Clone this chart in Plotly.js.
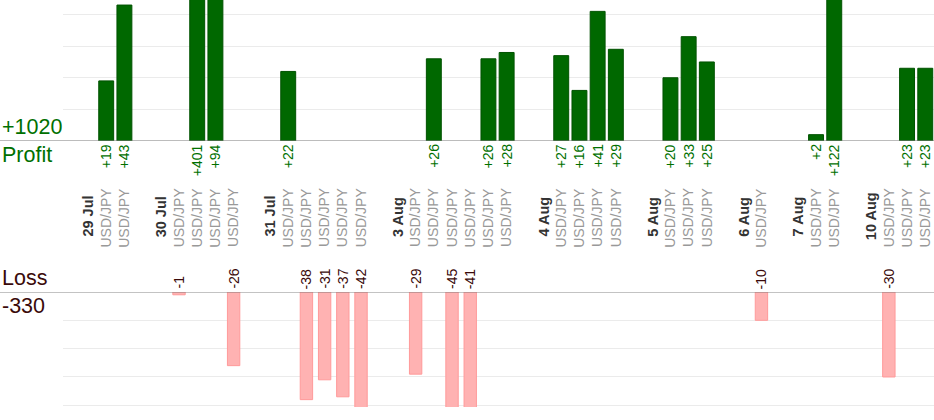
<!DOCTYPE html>
<html>
<head>
<meta charset="utf-8">
<script src="https://cdn.plot.ly/plotly-3.0.1.min.js"></script>
<style>
  html, body { margin: 0; padding: 0; background: #fff; }
  #chart { width: 934px; height: 420px; }
</style>
</head>
<body>
<div id="chart"></div>
<script>
// Trading days and the result of each trade (same order as on the chart)
const days = ['29 Jul', '30 Jul', '31 Jul', '3 Aug', '4 Aug', '5 Aug', '6 Aug', '7 Aug', '10 Aug'];
const pair = 'USD/JPY';
const dayResults = [
  [19, 43],
  [-1, 401, 94, -26],
  [22, -38, -31, -37, -42],
  [-29, 26, -45, -41, 26, 28],
  [27, 16, 41, 29],
  [20, 33, 25],
  [-10],
  [2, 122],
  [-30, 23, 23]
];

const FONT = 'Liberation Sans, Arial, sans-serif';
const GREEN = '#007000';
const BROWN = '#3a0a0a';

// lay out slots: date label, one slot per trade, then an empty gap slot
let slot = 0;
const dateSlots = [];
const tradeSlots = [];
const tradeValues = [];
days.forEach((d, i) => {
  dateSlots.push(slot);
  slot++;
  dayResults[i].forEach(v => {
    tradeSlots.push(slot);
    tradeValues.push(v);
    slot++;
  });
  slot++;
});

const profitX = [], profitY = [], lossX = [], lossY = [];
tradeValues.forEach((v, i) => {
  if (v > 0) { profitX.push(tradeSlots[i]); profitY.push(v); }
  else { lossX.push(tradeSlots[i]); lossY.push(v); }
});
const totalProfit = profitY.reduce((a, b) => a + b, 0);
const totalLoss = lossY.reduce((a, b) => a + b, 0);

const data = [
  {
    type: 'bar', x: profitX, y: profitY, xaxis: 'x', yaxis: 'y',
    width: 0.82,
    marker: { color: '#006800', line: { color: '#005200', width: 1 } },
    hoverinfo: 'skip'
  },
  {
    type: 'bar', x: lossX, y: lossY, xaxis: 'x', yaxis: 'y2',
    width: 0.68,
    marker: { color: '#ffb2b2', line: { color: '#ff9a9a', width: 1 } },
    hoverinfo: 'skip'
  }
];

const annotations = [];
// profit values under the top baseline
profitX.forEach((x, i) => {
  annotations.push({
    xref: 'x', yref: 'y', x: x, y: 0, yshift: -1,
    text: '+' + profitY[i], textangle: -90, showarrow: false,
    xanchor: 'center', yanchor: 'top',
    font: { family: FONT, size: 14, color: GREEN }
  });
});
// loss values above the bottom baseline
lossX.forEach((x, i) => {
  annotations.push({
    xref: 'x', yref: 'y2', x: x, y: 0, yshift: 1,
    text: String(lossY[i]), textangle: -90, showarrow: false,
    xanchor: 'center', yanchor: 'bottom',
    font: { family: FONT, size: 14, color: BROWN }
  });
});
// category labels in the middle band
dateSlots.forEach((x, i) => {
  annotations.push({
    xref: 'x', yref: 'paper', x: x, y: 0.468,
    text: '<b>' + days[i] + '</b>', textangle: -90, showarrow: false,
    xanchor: 'center', yanchor: 'middle',
    font: { family: FONT, size: 14.5, color: '#333333' }
  });
});
tradeSlots.forEach(x => {
  annotations.push({
    xref: 'x', yref: 'paper', x: x, y: 0.466,
    text: pair, textangle: -90, showarrow: false,
    xanchor: 'center', yanchor: 'middle',
    font: { family: FONT, size: 14, color: '#999999' }
  });
});
// totals on the left
const leftX = -63 / 871;
annotations.push(
  { xref: 'paper', yref: 'y', x: leftX, y: 0, xanchor: 'left', yanchor: 'bottom', showarrow: false,
    text: '+' + totalProfit, font: { family: FONT, size: 21.5, color: GREEN } },
  { xref: 'paper', yref: 'y', x: leftX, y: 0, xanchor: 'left', yanchor: 'top', showarrow: false,
    text: 'Profit', font: { family: FONT, size: 21.5, color: GREEN } },
  { xref: 'paper', yref: 'y2', x: leftX, y: 0, xanchor: 'left', yanchor: 'bottom', showarrow: false,
    text: 'Loss', font: { family: FONT, size: 21.5, color: BROWN } },
  { xref: 'paper', yref: 'y2', x: leftX, y: 0, xanchor: 'left', yanchor: 'top', showarrow: false,
    text: String(totalLoss), font: { family: FONT, size: 21.5, color: BROWN } }
);

const layout = {
  width: 934, height: 420,
  margin: { l: 63, r: 0, t: 0, b: 13, pad: 0 },
  paper_bgcolor: '#fff', plot_bgcolor: '#fff',
  showlegend: false,
  bargap: 0,
  xaxis: {
    range: [-1.374, 46.48], showgrid: false, zeroline: false,
    showticklabels: false, showline: false, ticks: ''
  },
  yaxis: {
    domain: [0.6536, 1], range: [0, 44.6], dtick: 10,
    showgrid: true, gridcolor: '#ebebeb', gridwidth: 1,
    zeroline: false, showticklabels: false, ticks: ''
  },
  yaxis2: {
    domain: [0, 0.2826], range: [-40.6, 0], dtick: 10, anchor: 'x',
    showgrid: true, gridcolor: '#ebebeb', gridwidth: 1,
    zeroline: false, showticklabels: false, ticks: ''
  },
  shapes: [
    { type: 'line', xref: 'paper', yref: 'y', x0: -63 / 871, x1: 1, y0: 0, y1: 0,
      line: { color: '#808080', width: 1 } },
    { type: 'line', xref: 'paper', yref: 'y2', x0: -63 / 871, x1: 1, y0: 0, y1: 0,
      line: { color: '#808080', width: 1 } }
  ],
  annotations: annotations
};

Plotly.newPlot('chart', data, layout, { displayModeBar: false, staticPlot: true });
</script>
</body>
</html>
